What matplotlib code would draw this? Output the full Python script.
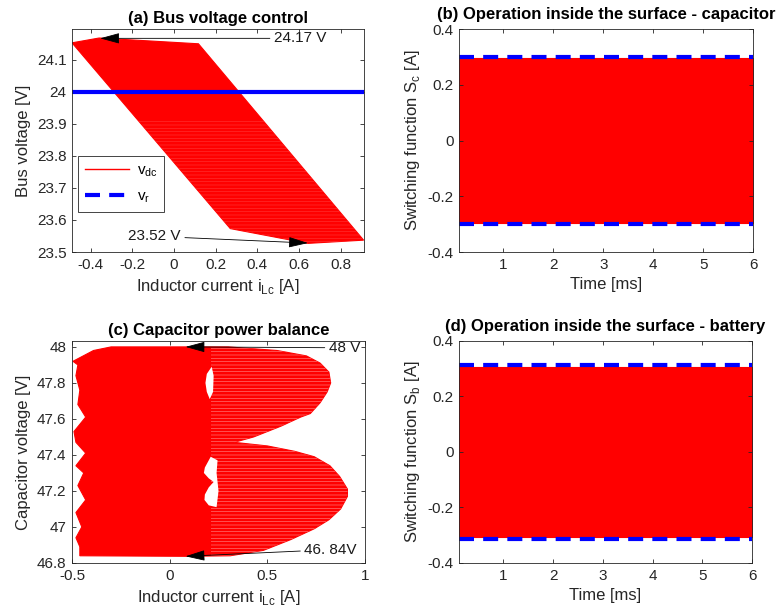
"""
Sliding-mode converter results: bus voltage, capacitor balance and switching functions.
"""

import matplotlib
matplotlib.use('Agg')
import matplotlib.pyplot as plt
from matplotlib.lines import Line2D
from matplotlib.patches import Rectangle
from matplotlib import ticker

plt.rcParams['font.family'] = ['Liberation Sans', 'DejaVu Sans']
plt.rcParams['axes.unicode_minus'] = False
plt.rcParams['hatch.linewidth'] = 0.4

GRAY = '0.15'

# (a) envelope of the v_dc / i_Lc trajectory
a_current = [-0.49, -0.36, 0.117, 0.91, 0.643, 0.27, -0.49]
a_voltage = [24.152, 24.167, 24.149, 23.537, 23.527, 23.573, 24.152]
a_ref = 24.0

# (b), (d) switching function envelopes and hysteresis bands
time_ms = [0.11, 6.0]
sc_upper = [0.296, 0.296]
sc_lower = [-0.297, -0.297]
sc_band = 0.30
sb_upper = [0.307, 0.307]
sb_lower = [-0.308, -0.308]
sb_band = 0.312

# (c) envelope of capacitor voltage / i_Lc trajectory
c_current = [-0.30, 0.30, 0.55, 0.70, 0.77, 0.815, 0.824, 0.806, 0.77, 0.72, 0.67,
             0.57, 0.43, 0.33, 0.50, 0.64, 0.74, 0.82, 0.87, 0.91, 0.91, 0.875,
             0.815, 0.74, 0.62, 0.48, 0.31, 0.08, -0.46, -0.46, -0.48, -0.45,
             -0.48, -0.43, -0.47, -0.44, -0.48, -0.43, -0.48, -0.49, -0.43,
             -0.47, -0.46, -0.48, -0.47, -0.495, -0.39, -0.30]
c_voltage = [48.00, 48.00, 47.98, 47.95, 47.91, 47.86, 47.80, 47.75, 47.69, 47.63, 47.61,
             47.56, 47.50, 47.47, 47.45, 47.42, 47.39, 47.34, 47.28, 47.21, 47.17, 47.10,
             47.04, 46.99, 46.93, 46.87, 46.84, 46.837, 46.84, 46.89, 46.94, 47.00,
             47.08, 47.15, 47.23, 47.30, 47.34, 47.41, 47.47, 47.53, 47.61,
             47.68, 47.76, 47.84, 47.90, 47.92, 47.98, 48.00]
c_hole1_i = [0.215, 0.19, 0.183, 0.19, 0.205, 0.222, 0.225]
c_hole1_v = [47.89, 47.85, 47.80, 47.75, 47.71, 47.75, 47.84]
c_hole2_i = [0.21, 0.18, 0.175, 0.20, 0.225, 0.20, 0.18, 0.178, 0.20, 0.24, 0.25, 0.24, 0.245]
c_hole2_v = [47.39, 47.33, 47.30, 47.27, 47.25, 47.22, 47.18, 47.15, 47.12, 47.11, 47.20, 47.30, 47.37]

TICK_FS = 11
LABEL_FS = 12
TITLE_FS = 12


def style_axes(ax):
    for sp in ax.spines.values():
        sp.set_color(GRAY)
        sp.set_linewidth(0.6)
    ax.tick_params(direction='in', top=True, right=True, length=3, width=0.6,
                   colors=GRAY, labelsize=TICK_FS, pad=4)
    ax.xaxis.set_major_formatter(ticker.FormatStrFormatter('%g'))
    ax.yaxis.set_major_formatter(ticker.FormatStrFormatter('%g'))


def arrow_note(ax, text, tip, start):
    ax.annotate(text, xy=tip, xytext=start, ha='left', va='center', fontsize=11,
                color='0.1',
                arrowprops=dict(arrowstyle='-|>,head_length=1.1,head_width=0.3',
                                color='black', lw=0.6, shrinkA=1, shrinkB=0))


def add_stripes(ax, xs, ys, clip, alpha):
    # thin white gaps between the individual trajectory passes
    p = ax.fill(xs, ys, facecolor='none', edgecolor=(1, 1, 1, alpha),
                hatch='-----', lw=0)[0]
    p.set_clip_path(Rectangle(clip[0], clip[1], clip[2], transform=ax.transData))


fig = plt.figure(figsize=(7.82, 6.15), dpi=100)
ax_a = fig.add_axes([0.0921, 0.5902, 0.3734, 0.3626])
ax_b = fig.add_axes([0.5870, 0.5902, 0.3760, 0.3626])
ax_c = fig.add_axes([0.0921, 0.0846, 0.3747, 0.3610])
ax_d = fig.add_axes([0.5870, 0.0846, 0.3747, 0.3610])

# (a)
ax_a.fill(a_current, a_voltage, color='red', lw=0.8)
add_stripes(ax_a, a_current, a_voltage, ((-0.6, 23.5), 2.0, 0.41), 0.22)
ax_a.axhline(a_ref, color='blue', lw=3)
ax_a.set_xlim(-0.49, 0.912)
ax_a.set_ylim(23.5, 24.195)
ax_a.set_xticks([-0.4, -0.2, 0, 0.2, 0.4, 0.6, 0.8])
ax_a.set_yticks([23.5, 23.6, 23.7, 23.8, 23.9, 24.0, 24.1])
arrow_note(ax_a, '24.17 V', (-0.355, 24.166), (0.48, 24.166))
arrow_note(ax_a, '23.52 V', (0.643, 23.528), (-0.22, 23.549))
handles = [Line2D([], [], color='red', lw=1),
           Line2D([], [], color='blue', lw=3, dashes=(3.6, 2.2))]
leg = ax_a.legend(handles, [r'v$_{\mathregular{dc}}$', r'v$_{\mathregular{r}}$'],
                  loc='upper left', bbox_to_anchor=(0.02, 0.43), borderaxespad=0,
                  fancybox=False, framealpha=1, edgecolor=GRAY, fontsize=11,
                  handlelength=2.9, handletextpad=0.5, labelspacing=0.7, borderpad=0.45)
leg.get_frame().set_linewidth(0.6)
ax_a.set_title('(a) Bus voltage control', fontsize=TITLE_FS, fontweight='bold', pad=4)
ax_a.set_xlabel(r'Inductor current i$_{\mathregular{Lc}}$ [A]', fontsize=LABEL_FS, color=GRAY)
ax_a.set_ylabel('Bus voltage [V]', fontsize=LABEL_FS, color=GRAY)

# (b)
ax_b.fill_between(time_ms, sc_lower, sc_upper, color='red', lw=0.8)
ax_b.axhline(sc_band, color='blue', lw=3, dashes=(3.6, 2.2))
ax_b.axhline(-sc_band, color='blue', lw=3, dashes=(3.6, 2.2))
ax_b.set_xlim(0.11, 6.0)
ax_b.set_ylim(-0.4, 0.4)
ax_b.set_xticks([1, 2, 3, 4, 5, 6])
ax_b.set_yticks([-0.4, -0.2, 0, 0.2, 0.4])
ax_b.set_title('(b) Operation inside the surface - capacitor', fontsize=TITLE_FS,
               fontweight='bold', pad=7)
ax_b.set_xlabel('Time [ms]', fontsize=LABEL_FS, color=GRAY)
ax_b.set_ylabel(r'Switching function S$_{\mathregular{c}}$ [A]', fontsize=LABEL_FS, color=GRAY)

# (c)
ax_c.fill(c_current, c_voltage, color='red', lw=0.8)
add_stripes(ax_c, c_current, c_voltage, ((0.21, 46.7), 1.0, 2.0), 0.55)
ax_c.fill(c_hole1_i, c_hole1_v, color='white', lw=0)
ax_c.fill(c_hole2_i, c_hole2_v, color='white', lw=0)
ax_c.set_xlim(-0.5, 1.0)
ax_c.set_ylim(46.8, 48.033)
ax_c.set_xticks([-0.5, 0, 0.5, 1])
ax_c.set_yticks([46.8, 47.0, 47.2, 47.4, 47.6, 47.8, 48.0])
arrow_note(ax_c, '48 V', (0.081, 48.0), (0.815, 47.995))
arrow_note(ax_c, '46. 84V', (0.081, 46.837), (0.69, 46.874))
ax_c.set_title('(c) Capacitor power balance', fontsize=TITLE_FS, fontweight='bold', pad=4)
ax_c.set_xlabel(r'Inductor current i$_{\mathregular{Lc}}$ [A]', fontsize=LABEL_FS, color=GRAY)
ax_c.set_ylabel('Capacitor voltage [V]', fontsize=LABEL_FS, color=GRAY)

# (d)
ax_d.fill_between(time_ms, sb_lower, sb_upper, color='red', lw=0.8)
ax_d.axhline(sb_band, color='blue', lw=3, dashes=(3.6, 2.2))
ax_d.axhline(-sb_band, color='blue', lw=3, dashes=(3.6, 2.2))
ax_d.set_xlim(0.11, 6.0)
ax_d.set_ylim(-0.4, 0.4)
ax_d.set_xticks([1, 2, 3, 4, 5, 6])
ax_d.set_yticks([-0.4, -0.2, 0, 0.2, 0.4])
ax_d.set_title('(d) Operation inside the surface - battery', fontsize=TITLE_FS,
               fontweight='bold', pad=7)
ax_d.set_xlabel('Time [ms]', fontsize=LABEL_FS, color=GRAY)
ax_d.set_ylabel(r'Switching function S$_{\mathregular{b}}$ [A]', fontsize=LABEL_FS, color=GRAY)

for ax in (ax_a, ax_b, ax_c, ax_d):
    style_axes(ax)

fig.savefig('out.png', dpi=100)
